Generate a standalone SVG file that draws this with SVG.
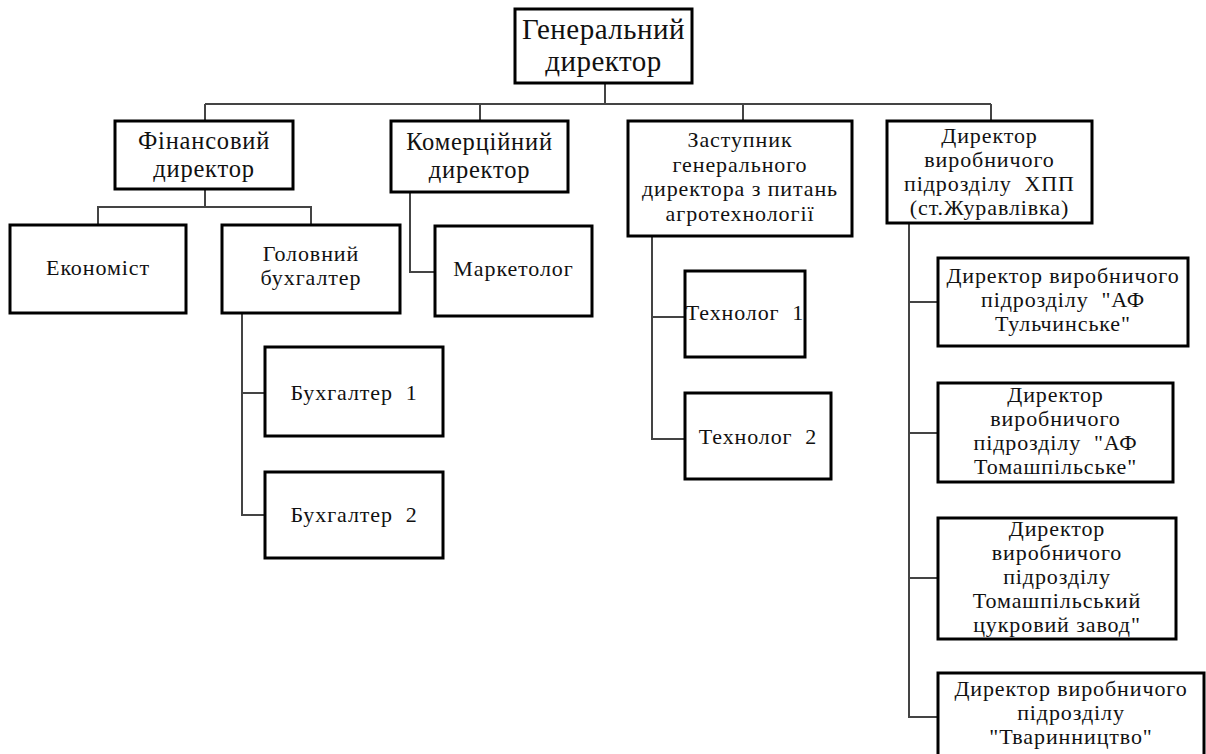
<svg xmlns="http://www.w3.org/2000/svg" width="1206" height="754" viewBox="0 0 1206 754">
<style>
.box{fill:#fff;stroke:#000;stroke-width:3}
.ln{fill:none;stroke:#444;stroke-width:2}
.t{font-family:"Liberation Serif","Times New Roman",serif;fill:#111;text-anchor:middle;font-size:22px;letter-spacing:0.9px}
.big{font-size:29px;letter-spacing:0.5px}
.mid{font-size:24.5px;letter-spacing:0.8px}
</style>
<rect width="1206" height="754" fill="#fff"/>
<g id="connectors">
<path class="ln" d="M605,83V104M205,104H991M205,104V121M480,104V121M743,104V121M991,104V121"/>
<path class="ln" d="M205,189V207M98,225V207H311V225"/>
<path class="ln" d="M410,192V272H435"/>
<path class="ln" d="M242,313V515H265M242,393H265"/>
<path class="ln" d="M652,236V439H685M652,317H685"/>
<path class="ln" d="M909,223V717H938M909,302H938M909,433H938M909,578H938"/>
</g>
<g class="t">
<g id="gen"><rect class="box" x="515" y="9" width="177" height="74"/><text class="big" x="603.5" y="39">Генеральний</text><text class="big" x="603.5" y="71">директор</text></g>
<g id="fin"><rect class="box" x="115" y="121" width="178" height="68"/><text class="mid" x="204" y="149">Фінансовий</text><text class="mid" x="204" y="177">директор</text></g>
<g id="kom"><rect class="box" x="391" y="121" width="177" height="71"/><text class="mid" x="479.5" y="150">Комерційний</text><text class="mid" x="479.5" y="178">директор</text></g>
<g id="zast"><rect class="box" x="628" y="121" width="224" height="115"/><text x="740" y="147">Заступник</text><text x="740" y="172">генерального</text><text x="740" y="196">директора з питань</text><text x="740" y="221">агротехнології</text></g>
<g id="hpp"><rect class="box" x="887" y="121" width="205" height="102"/><text x="989.5" y="143">Директор</text><text x="989.5" y="167">виробничого</text><text x="989.5" y="191">підрозділу&#160; ХПП</text><text x="989.5" y="215">(ст.Журавлівка)</text></g>
<g id="econ"><rect class="box" x="10" y="225" width="176" height="88"/><text x="98" y="275">Економіст</text></g>
<g id="golov"><rect class="box" x="222" y="225" width="178" height="88"/><text x="311" y="261">Головний</text><text x="311" y="285">бухгалтер</text></g>
<g id="market"><rect class="box" x="435" y="226" width="157" height="90"/><text x="513.5" y="276">Маркетолог</text></g>
<g id="buh1"><rect class="box" x="265" y="347" width="178" height="89"/><text x="354" y="400">Бухгалтер&#160; 1</text></g>
<g id="buh2"><rect class="box" x="265" y="472" width="178" height="86"/><text x="354" y="522">Бухгалтер&#160; 2</text></g>
<g id="tech1"><rect class="box" x="685" y="271" width="120" height="86"/><text x="745" y="320">Технолог&#160; 1</text></g>
<g id="tech2"><rect class="box" x="685" y="393" width="146" height="86"/><text x="758" y="444">Технолог&#160; 2</text></g>
<g id="pidA"><rect class="box" x="938" y="258" width="250" height="88"/><text x="1063" y="283">Директор виробничого</text><text x="1063" y="307">підрозділу&#160; "АФ</text><text x="1063" y="331">Тульчинське"</text></g>
<g id="pidB"><rect class="box" x="938" y="383" width="235" height="99"/><text x="1055.5" y="402">Директор</text><text x="1055.5" y="426">виробничого</text><text x="1055.5" y="450">підрозділу&#160; "АФ</text><text x="1055.5" y="474">Томашпільське"</text></g>
<g id="pidC"><rect class="box" x="938" y="518" width="238" height="121"/><text x="1057" y="536">Директор</text><text x="1057" y="560">виробничого</text><text x="1057" y="584">підрозділу</text><text x="1057" y="608">Томашпільський</text><text x="1057" y="632">цукровий завод"</text></g>
<g id="pidD"><rect class="box" x="938" y="673" width="266" height="92"/><text x="1071" y="696">Директор виробничого</text><text x="1071" y="720">підрозділу</text><text x="1071" y="744">"Тваринництво"</text></g>
</g>
</svg>
